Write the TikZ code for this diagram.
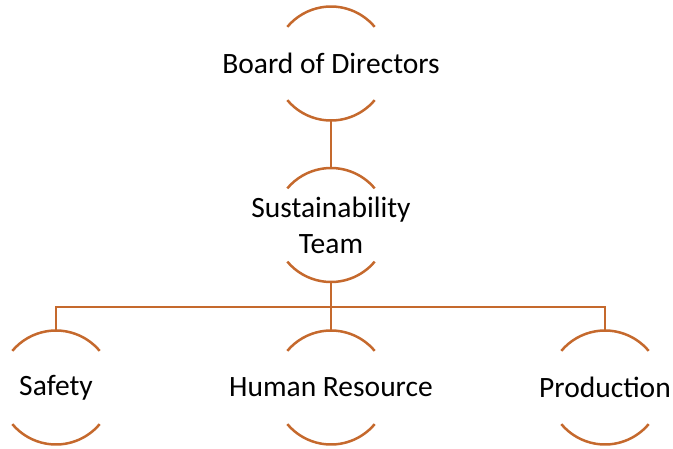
\documentclass[tikz,border=0pt]{standalone}
\usepackage{fontspec}
\setmainfont{Carlito}
\definecolor{arcor}{HTML}{C5692D}
\begin{document}
\begin{tikzpicture}[x=1pt,y=-1pt,
  arcs/.style={draw=arcor,line width=2.5pt},
  conn/.style={draw=arcor,line width=2.5pt},
  lbl/.style={font=\fontsize{29.5}{36}\selectfont,align=center,text=black,inner sep=0pt}]
\useasboundingbox (0,0) rectangle (673,448);
\def\R{57}
% circles as top/bottom arcs
\foreach \n/\cx/\cy in {bod/331/63.5, st/331/225, sa/56/387.5, hr/331/387.5, pr/605/387.5}{
  \coordinate (\n) at (\cx,\cy);
  \coordinate (\n-t) at (\cx,\cy-\R);
  \coordinate (\n-b) at (\cx,\cy+\R);
  \draw[arcs] (\n) ++(-40:\R) arc[start angle=-40,end angle=-140,radius=\R];
  \draw[arcs] (\n) ++(40:\R) arc[start angle=40,end angle=140,radius=\R];
}
\node[lbl] (bodl) at (bod) {Board of Directors};
\node[lbl] (stl) at (st) {Sustainability\\Team};
\node[lbl] (sal) at (sa) {Safety};
\node[lbl] (hrl) at (hr) {Human Resource};
\node[lbl] (prl) at (pr) {Production};
\coordinate (bus) at (331,307);
\draw[conn] (bod-b) -- (st-t);
\draw[conn] (st-b) -- (bus);
\draw[conn] (sa-t) |- (bus) -| (pr-t);
\draw[conn] (bus) -- (hr-t);
\end{tikzpicture}
\end{document}
